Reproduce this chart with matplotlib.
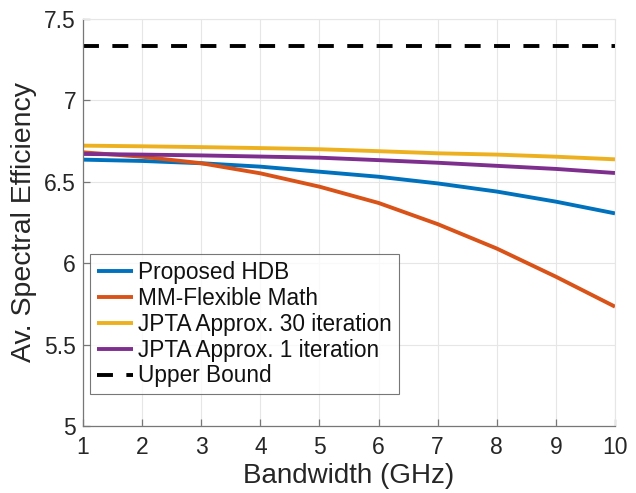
import matplotlib
matplotlib.use("Agg")
import matplotlib.pyplot as plt

bandwidth = [1, 2, 3, 4, 5, 6, 7, 8, 9, 10]
proposed_hdb = [6.636, 6.628, 6.614, 6.593, 6.562, 6.531, 6.490, 6.440, 6.378, 6.306]
mm_flexible = [6.681, 6.654, 6.614, 6.552, 6.470, 6.370, 6.240, 6.090, 5.917, 5.733]
jpta_30 = [6.722, 6.718, 6.713, 6.707, 6.700, 6.688, 6.675, 6.667, 6.654, 6.638]
jpta_1 = [6.671, 6.667, 6.662, 6.655, 6.648, 6.633, 6.617, 6.598, 6.579, 6.554]
upper_bound = [7.333] * len(bandwidth)

labels = ["Proposed HDB", "MM-Flexible Math", "JPTA Approx. 30 iteration",
          "JPTA Approx. 1 iteration", "Upper Bound"]
colors = ["#0072BD", "#D95319", "#EDB120", "#7E2F8E", "black"]

plt.rcParams["font.family"] = ["Liberation Sans", "DejaVu Sans"]

fig = plt.figure(figsize=(6.36, 4.93), dpi=100)
ax = fig.add_axes([0.1305, 0.1359, 0.8365, 0.8256])

lw = 2.8
for ys, lab, c in zip([proposed_hdb, mm_flexible, jpta_30, jpta_1],
                      labels[:4], colors[:4]):
    ax.plot(bandwidth, ys, color=c, lw=lw, label=lab, solid_capstyle="butt")
ax.plot(bandwidth, upper_bound, color="black", lw=lw, dashes=(4.1, 3.45),
        dash_capstyle="butt", label=labels[4])

ax.set_xlim(1, 10)
ax.set_ylim(5, 7.5)
ax.set_xticks(range(1, 11))
ax.set_yticks([5, 5.5, 6, 6.5, 7, 7.5])
ax.set_yticklabels(["5", "5.5", "6", "6.5", "7", "7.5"])
ax.grid(True, color="#e6e6e6", lw=0.8)
ax.set_axisbelow(True)

for s in ["top", "right"]:
    ax.spines[s].set_color("#e6e6e6")
for s in ["left", "bottom"]:
    ax.spines[s].set_color("#777777")
    ax.spines[s].set_linewidth(0.9)

ax.tick_params(direction="in", length=5, width=0.9, color="#777777",
               labelsize=16.5, labelcolor="#262626", top=False, right=False)
ax.tick_params(axis="x", pad=7)
ax.tick_params(axis="y", pad=5)

ax.set_xlabel("Bandwidth (GHz)", fontsize=20, color="#262626", labelpad=3)
ax.set_ylabel("Av. Spectral Efficiency", fontsize=20.5, color="#262626", labelpad=5)

leg = ax.legend(loc="lower left", bbox_to_anchor=(0.014, 0.078), fontsize=16.3,
                frameon=True, fancybox=False, edgecolor="#555555",
                handlelength=1.6, handletextpad=0.2, borderpad=0.3,
                labelspacing=0.13, borderaxespad=0)
leg.get_frame().set_linewidth(0.8)
for t in leg.get_texts():
    t.set_color("#111111")

fig.savefig("out.png", dpi=100, facecolor="white")
